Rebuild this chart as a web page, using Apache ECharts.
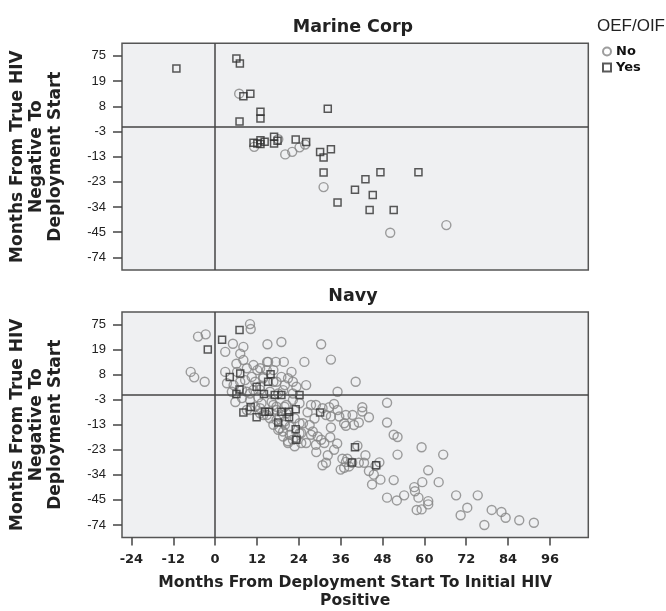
<!DOCTYPE html>
<html lang="en">
<head>
<meta charset="UTF-8">
<title>Months From True HIV Negative To Deployment Start</title>
<script src="https://cdn.jsdelivr.net/npm/echarts@6/dist/echarts.min.js"></script>
<style>
    html, body { margin: 0; padding: 0; background: #fff; }
    #chart { width: 666px; height: 611px; }
</style>
</head>
<body>
<div id="chart"></div>
<script>
    // axis ticks (y axis is a rank scale: ticks evenly spaced)
    var xTicks = [-24, -12, 0, 12, 24, 36, 48, 60, 72, 84, 96];
    var yTicks = [-74, -45, -34, -23, -13, -3, 8, 19, 75];
    var refX = 0;
    var refY = -1;

    // Marine Corp, [months deployment->HIV+, months HIV- -> deployment]
    var marineNo = [[6.9, 13.5], [11.2, -9.1], [18.1, -6.1], [20.1, -12.1], [22.1, -11.1], [24.2, -9.3],
        [25.8, -8.2], [31.1, -25.3], [50.2, -45.6], [66.3, -41.9]];
    var marineYes = [[-11.1, 47], [6.1, 69], [7.1, 58], [8.1, 12.4], [10.1, 13.5], [13.0, 5.6], [13.0, 2.7],
        [7.0, 1.4], [32.3, 6.9], [11.0, -7.5], [12.1, -7.8], [13.0, -6.5], [13.0, -8.0], [14.2, -7.1],
        [16.9, -5.1], [16.9, -7.8], [17.9, -6.7], [23.1, -6.2], [26.1, -7.2], [30.1, -11.2], [31.1, -13.3],
        [33.2, -10.1], [31.1, -19.3], [40.1, -26.5], [35.1, -32.0], [43.1, -22.0], [47.4, -19.2],
        [58.3, -19.2], [45.2, -28.7], [44.3, -35.3], [51.2, -35.3]];

    // Navy
    var navyNo = [[-4.9, 48], [-2.7, 53], [-7.0, 9.2], [-6.0, 6.8], [-3.0, 4.9],
        [10.0, 76], [10.2, 65], [5.1, 32], [8.1, 25], [2.9, 18], [15.0, 31], [19.0, 36],
        [6.1, 12.8], [7.2, 17.2], [8.1, 14.4], [9.1, 10.8], [11.0, 12.2], [12.9, 10.8], [6.3, 9.2], [2.9, 9.2],
        [10.5, 7.0], [8.6, 5.6], [3.4, 4.2], [5.3, 3.4], [7.2, 4.9], [15.2, 13.6], [17.4, 13.6], [19.7, 13.6],
        [13.8, 7.0], [19.0, 7.0], [21.9, 9.2], [22.3, 4.9], [16.7, 4.9], [20.0, 3.4], [23.3, 2.7], [9.1, 0.5],
        [11.0, 1.3], [12.9, 2.9], [4.8, 0.5], [7.7, -2.3], [10.0, -3.1], [12.4, -2.0], [13.3, -4.4], [16.2, -3.9],
        [17.6, -5.8], [20.4, -5.1], [22.3, -3.1], [24.2, -4.4], [15.7, -10.4], [16.7, -13.0], [14.8, -9.1],
        [18.5, -9.7], [20.0, -13.0], [19.5, -15.7], [21.4, -17.0], [22.3, -19.0], [20.9, -19.6], [22.8, -21.6],
        [24.2, -12.4], [24.7, -16.3], [18.1, -15.0], [11.5, -5.8], [9.1, -7.1], [12.9, -8.4], [5.8, -3.9],
        [24.7, -20.3], [12.1, 10.0], [14.8, 10.0], [16.7, 10.0], [14.9, 13.6], [13.8, 6.4], [11.5, 4.9],
        [17.6, 4.9], [20.9, 6.4], [15.7, 0.5], [18.1, -0.3], [10.0, -0.3], [7.7, 1.3], [12.9, 1.3], [19.5, 1.2],
        [22.3, -0.3], [19.9, -5.8], [16.7, -5.1], [13.8, -9.1], [17.6, -11.1], [19.9, -11.7], [21.4, -13.7],
        [24.2, -16.4], [19.5, -17.7], [20.9, -20.3], [20.4, -8.4], [22.8, -10.4], [17.6, -7.1], [12.9, -6.4],
        [10.0, -7.1], [18.5, -14.4], [23.3, -18.3],
        [30.4, 31], [33.2, 14.6], [25.6, 13.6], [26.1, 3.4], [40.3, 4.9], [35.1, 0.5], [49.3, -4.2], [42.2, -6.0],
        [42.2, -7.7], [44.1, -10.0], [49.3, -12.1], [51.2, -17.0], [52.3, -17.9], [52.3, -25.1], [27.5, -5.1],
        [28.9, -5.1], [30.8, -6.4], [32.7, -6.0], [34.1, -4.7], [35.1, -7.1], [31.8, -9.1], [33.2, -9.7],
        [35.6, -9.7], [37.5, -9.1], [39.4, -9.1], [37.0, -12.4], [39.8, -13.1], [41.2, -12.1], [33.2, -14.1],
        [37.5, -13.4], [25.2, -12.4], [27.1, -13.1], [28.0, -15.7], [29.4, -17.7], [30.4, -19.0], [31.3, -20.3],
        [28.9, -21.0], [26.1, -20.3], [32.3, -25.4], [34.1, -23.0], [31.8, -28.7], [30.8, -29.8], [40.8, -21.4],
        [43.1, -25.4], [41.2, -28.7], [42.7, -28.7], [44.1, -32.3], [45.5, -33.9], [45.0, -38.2], [47.1, -28.5],
        [47.4, -36.1], [46.0, -30.0], [36.5, -26.9], [37.5, -28.3], [38.4, -30.3], [36.0, -31.7], [37.0, -30.9],
        [39.3, -28.7], [37.9, -26.9], [51.2, -36.3], [49.3, -44.0], [52.1, -45.6], [54.2, -43.0], [57.1, -39.4],
        [57.3, -41.2], [58.3, -44.0], [57.8, -56.6], [59.2, -56.0], [59.4, -37.2], [61.1, -32.0], [64.1, -37.2],
        [61.1, -46.4], [61.1, -50.2], [59.2, -22.0], [65.4, -25.1], [69.1, -43.0], [75.3, -43.0], [72.3, -54.0],
        [70.4, -62.7], [77.2, -74], [79.3, -56.6], [82.1, -58.9], [83.3, -65.6], [87.2, -68.5], [91.4, -71.4],
        [27.5, -17.0], [29.0, -24.0], [33.0, -18.0], [35.0, -20.5], [26.5, -8.0], [28.5, -10.5]];
    var navyYes = [[2.0, 41], [7.0, 63], [-2.1, 19], [4.2, 7.0], [7.2, 8.5], [15.9, 8.2], [15.2, 4.9], [11.9, 2.7],
        [7.0, 1.5], [6.1, -0.5], [14.0, -0.5], [17.1, -0.9], [19.0, -0.9], [24.2, -0.9], [8.1, -8.1], [10.2, -5.9],
        [11.9, -10.0], [14.3, -7.8], [15.5, -7.8], [19.0, -7.8], [21.2, -7.8], [21.2, -10.0], [23.1, -6.8],
        [18.1, -12.1], [23.1, -14.8], [23.3, -19.0], [30.1, -8.1], [40.1, -22.0], [39.2, -28.6], [46.2, -29.8]];

    // months -> position on the rank scale (piecewise between ticks)
    function yPos(m) {
        var n = yTicks.length;
        if (m <= yTicks[0]) return (m - yTicks[0]) / (yTicks[1] - yTicks[0]);
        for (var i = 0; i < n - 1; i++) {
            if (m <= yTicks[i + 1]) return i + (m - yTicks[i]) / (yTicks[i + 1] - yTicks[i]);
        }
        return n - 1 + (m - yTicks[n - 1]) / (yTicks[n - 1] - yTicks[n - 2]);
    }
    function toPoints(list) {
        return list.map(function (p) { return [p[0], yPos(p[1])]; });
    }
    var yIdx = yTicks.map(function (v, i) { return i; });

    var boldFont = 'DejaVu Sans';
    var narrowFont = '"Liberation Sans Narrow", "Liberation Sans", sans-serif';
    var yName = 'Months From True HIV\nNegative To\nDeployment Start';

    function makeX(idx, labels) {
        var ax = {
            gridIndex: idx, type: 'value', min: -26.7, max: 107,
            axisLine: { show: false, onZero: false },
            splitLine: { show: false },
            axisTick: { show: false },
            axisLabel: { show: false }
        };
        if (labels) {
            ax.axisTick = { show: true, length: 8, customValues: xTicks, lineStyle: { color: '#444', width: 1.5 } };
            ax.axisLabel = {
                show: true, customValues: xTicks, margin: 16, color: '#222',
                fontFamily: boldFont, fontWeight: 'bold', fontSize: 13
            };
            ax.name = 'Months From Deployment Start To Initial HIV\nPositive';
            ax.nameLocation = 'middle';
            ax.nameGap = 36;
            ax.nameTextStyle = { fontFamily: boldFont, fontWeight: 'bold', fontSize: 15.6, lineHeight: 18, color: '#222' };
        }
        return ax;
    }
    function makeY(idx) {
        return {
            gridIndex: idx, type: 'value', min: -0.5, max: 8.5,
            axisLine: { show: false, onZero: false },
            splitLine: { show: false },
            axisTick: { show: true, length: 9, customValues: yIdx, lineStyle: { color: '#444', width: 1.5 } },
            axisLabel: {
                customValues: yIdx, margin: 16, color: '#222',
                fontFamily: narrowFont, fontSize: 13,
                formatter: function (v) { return String(yTicks[Math.round(v)]); }
            },
            name: yName, nameLocation: 'middle', nameRotate: 90, nameGap: 57,
            nameTextStyle: { fontFamily: boldFont, fontWeight: 'bold', fontSize: 17, lineHeight: 19, color: '#222' }
        };
    }
    function refLines() {
        return {
            silent: true, symbol: ['none', 'none'], animation: false,
            label: { show: false },
            lineStyle: { color: '#444', width: 1.5, type: 'solid' },
            emphasis: { disabled: true },
            data: [{ xAxis: refX }, { yAxis: yPos(refY) }]
        };
    }
    function noSeries(idx, list) {
        return {
            name: 'No', type: 'scatter', xAxisIndex: idx, yAxisIndex: idx,
            symbol: 'circle', symbolSize: 9, silent: true,
            itemStyle: { color: 'rgba(0,0,0,0)', borderColor: '#858585', borderWidth: 1.4 },
            data: toPoints(list), markLine: refLines()
        };
    }
    function yesSeries(idx, list) {
        return {
            name: 'Yes', type: 'scatter', xAxisIndex: idx, yAxisIndex: idx,
            symbol: 'rect', symbolSize: 7, silent: true,
            itemStyle: { color: 'rgba(0,0,0,0)', borderColor: '#303030', borderWidth: 1.5 },
            data: toPoints(list)
        };
    }

    var myChart = echarts.init(document.getElementById('chart'));
    var option = {
        animation: false,
        backgroundColor: '#fff',
        grid: [
            { left: 117.3, top: 43.3, width: 471, height: 226.7, show: true, backgroundColor: '#eff0f2', borderColor: '#555', borderWidth: 1.5 },
            { left: 117.3, top: 312, width: 471, height: 225.5, show: true, backgroundColor: '#eff0f2', borderColor: '#555', borderWidth: 1.5 }
        ],
        xAxis: [makeX(0, false), makeX(1, true)],
        yAxis: [makeY(0), makeY(1)],
        legend: {
            data: [{ name: 'No', icon: 'circle' }, { name: 'Yes', icon: 'rect' }],
            orient: 'vertical', left: 602, top: 45, padding: 0,
            itemWidth: 8, itemHeight: 8, itemGap: 3, selectedMode: false,
            textStyle: { fontFamily: boldFont, fontWeight: 'bold', fontSize: 13, color: '#111' }
        },
        graphic: [
            { type: 'text', x: 353, y: 27, silent: true,
              style: { text: 'Marine Corp', align: 'center', verticalAlign: 'middle', fill: '#222',
                       fontFamily: boldFont, fontWeight: 'bold', fontSize: 17.5 } },
            { type: 'text', x: 353, y: 296, silent: true,
              style: { text: 'Navy', align: 'center', verticalAlign: 'middle', fill: '#222',
                       fontFamily: boldFont, fontWeight: 'bold', fontSize: 17.5 } },
            { type: 'text', x: 597, y: 26, silent: true,
              style: { text: 'OEF/OIF', align: 'left', verticalAlign: 'middle', fill: '#222',
                       fontFamily: 'Liberation Sans', fontSize: 17 } }
        ],
        series: [
            noSeries(0, marineNo), yesSeries(0, marineYes),
            noSeries(1, navyNo), yesSeries(1, navyYes)
        ]
    };
    myChart.setOption(option);
</script>
</body>
</html>
